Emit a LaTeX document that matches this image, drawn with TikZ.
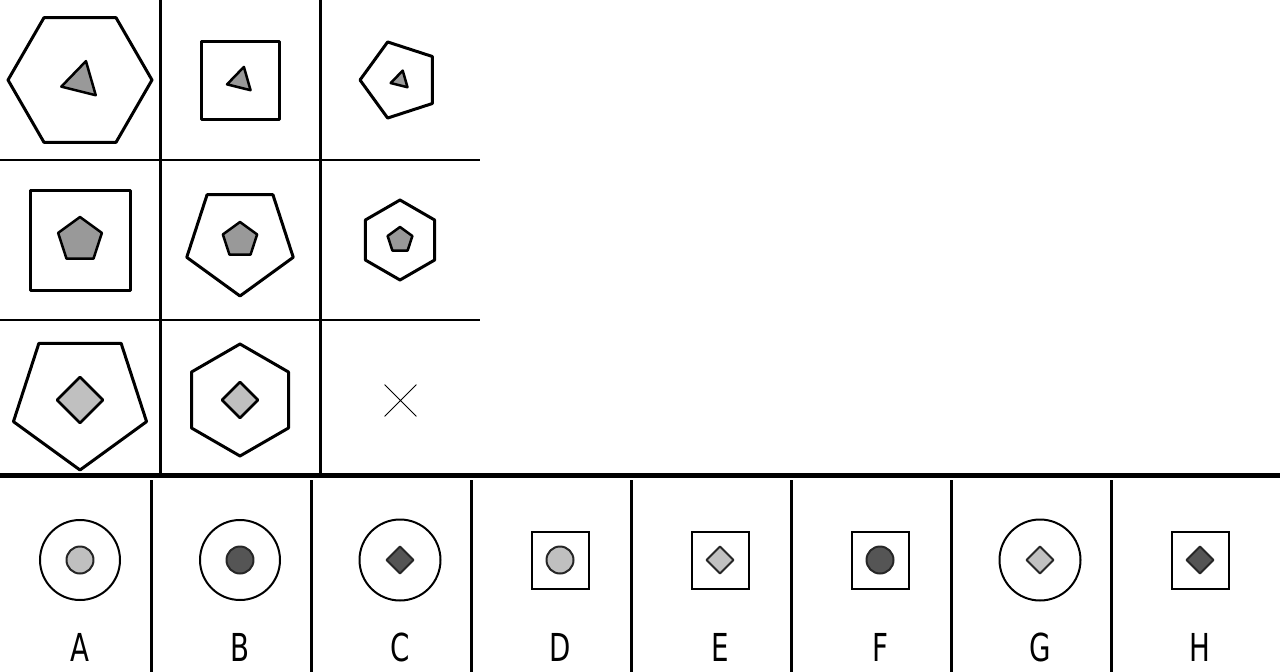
\documentclass[tikz,border=0pt]{standalone}
\usepackage{fontspec}
\newfontfamily\labfont{DejaVu Sans}
\usetikzlibrary{shapes.geometric,shapes.misc}
\definecolor{fillmid}{HTML}{999999}
\definecolor{filllight}{HTML}{C0C0C0}
\definecolor{filldark}{HTML}{555555}
\begin{document}
\begin{tikzpicture}[x=1pt,y=-1pt,
  outer/.style={draw=black, line width=3pt, inner sep=0pt, outer sep=0pt, line join=round},
  inner/.style={draw=black, line width=2.5pt, inner sep=0pt, outer sep=0pt, line join=round},
  ans/.style={draw=black, line width=2pt, inner sep=0pt, outer sep=0pt},
  ansin/.style={draw=black!85, line width=2pt, inner sep=0pt, outer sep=0pt, line join=round},
  poly/.style={regular polygon, regular polygon sides=#1},
  dia/.style={diamond, aspect=1, minimum width=#1, minimum height=#1},
  gridline/.style={line width=2pt},
  sepline/.style={line width=3pt},
  lab/.style={font={\labfont\fontsize{38.5}{40}\selectfont}, inner sep=0pt, anchor=base, xscale=0.72}]
\useasboundingbox (0,0) rectangle (1280,672);
% grid
\draw[sepline] (160.5,0) -- (160.5,478);
\draw[sepline] (320.5,0) -- (320.5,478);
\draw[gridline] (0,159.5) -- (480,159.5);
\draw[gridline] (0,319.5) -- (480,319.5);
\draw[line width=5pt] (0,475.5) -- (1280,475.5);
\foreach \x in {151,311,471,631,791,951,1111}
  \draw[sepline] (\x,480) -- (\x,672);
% row 1
\node[outer, poly=6, minimum size=144] (o11) at (80,80) {};
\node[inner, poly=3, shape border rotate=-14, minimum size=41, fill=fillmid] (i11) at (81,81) {};
\node[outer, rectangle, minimum size=78] (o12) at (240,80) {};
\node[inner, poly=3, shape border rotate=-14, minimum size=28, fill=fillmid] (i12) at (240.5,80.5) {};
\node[outer, poly=5, shape border rotate=90, minimum size=80] (o13) at (400,80) {};
\node[inner, poly=3, shape border rotate=-14, minimum size=20, fill=fillmid] (i13) at (400.3,80.3) {};
% row 2
\node[outer, rectangle, minimum size=100] (o21) at (80,240) {};
\node[inner, poly=5, minimum size=46, fill=fillmid] (i21) at (80,240) {};
\node[outer, poly=5, shape border rotate=180, minimum size=112] (o22) at (240,240) {};
\node[inner, poly=5, minimum size=36, fill=fillmid] (i22) at (240,240) {};
\node[outer, poly=6, shape border rotate=30, minimum size=80] (o23) at (400,240) {};
\node[inner, poly=5, minimum size=26, fill=fillmid] (i23) at (400,240) {};
% row 3
\node[outer, poly=5, shape border rotate=180, minimum size=140] (o31) at (80,400) {};
\node[inner, dia=46, fill=filllight] (i31) at (80,400) {};
\node[outer, poly=6, shape border rotate=30, minimum size=112] (o32) at (240,400) {};
\node[inner, dia=36, fill=filllight] (i32) at (240,400) {};
\node[cross out, draw=black, line width=0.8pt, minimum size=31, inner sep=0pt] (q) at (400.5,400.5) {};
% answers
\node[ans, circle, minimum size=80] (oA) at (80,560) {};
\node[ansin, circle, minimum size=27, fill=filllight] (iA) at (80,560) {};
\node[ans, circle, minimum size=80] (oB) at (240,560) {};
\node[ansin, circle, minimum size=27, fill=filldark] (iB) at (240,560) {};
\node[ans, circle, minimum size=81] (oC) at (400,560) {};
\node[ansin, dia=27, fill=filldark] (iC) at (400,560) {};
\node[ans, rectangle, minimum size=57] (oD) at (560.5,560.5) {};
\node[ansin, circle, minimum size=27, fill=filllight] (iD) at (560,560) {};
\node[ans, rectangle, minimum size=57] (oE) at (720.5,560.5) {};
\node[ansin, dia=27, fill=filllight] (iE) at (720,560) {};
\node[ans, rectangle, minimum size=57] (oF) at (880.5,560.5) {};
\node[ansin, circle, minimum size=27, fill=filldark] (iF) at (880,560) {};
\node[ans, circle, minimum size=81] (oG) at (1040,560) {};
\node[ansin, dia=27, fill=filllight] (iG) at (1040,560) {};
\node[ans, rectangle, minimum size=57] (oH) at (1200.5,560.5) {};
\node[ansin, dia=27, fill=filldark] (iH) at (1200,560) {};
% labels
\node[lab] (lA) at (80,661) {A};
\node[lab] (lB) at (240,661) {B};
\node[lab] (lC) at (400,661) {C};
\node[lab] (lD) at (560,661) {D};
\node[lab] (lE) at (720,661) {E};
\node[lab] (lF) at (880,661) {F};
\node[lab] (lG) at (1040,661) {G};
\node[lab] (lH) at (1200,661) {H};
\end{tikzpicture}
\end{document}
